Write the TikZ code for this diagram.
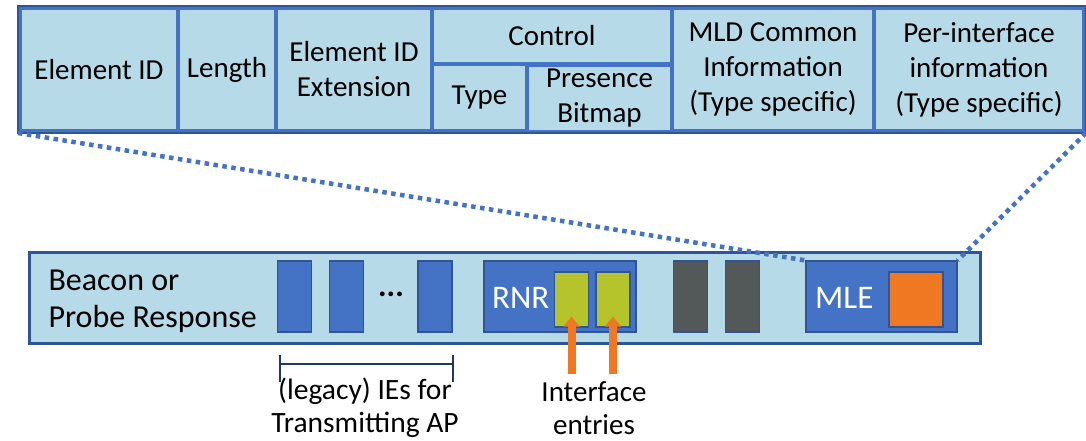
\documentclass[tikz,border=0pt]{standalone}
\usepackage{fontspec}
\setmainfont{Carlito}
\usetikzlibrary{arrows.meta}

\definecolor{barblue}{HTML}{B6DAE7}
\definecolor{accblue}{HTML}{4472C4}
\definecolor{darkblue}{HTML}{2F5597}
\definecolor{entrygreen}{HTML}{B5C42B}
\definecolor{elemgrey}{HTML}{535959}
\definecolor{accorange}{HTML}{F07823}
\definecolor{navy}{HTML}{203864}

\tikzstyle{cell}=[draw=accblue,fill=barblue,line width=4pt,inner sep=0pt,align=center,minimum height=123pt]
\tikzstyle{ie}=[draw=darkblue,fill=accblue,line width=1.2pt,minimum width=34pt,minimum height=71pt,inner sep=0pt]
\tikzstyle{entry}=[draw=darkblue,fill=entrygreen,line width=1.2pt,minimum width=34pt,minimum height=55pt,inner sep=0pt]
\tikzstyle{boxlabel}=[anchor=west,text=white,inner sep=0pt,font=\fontsize{33}{38}\selectfont]
\tikzstyle{zoomline}=[draw=accblue,line width=4.5pt,dash pattern=on 4.5pt off 4.5pt]
\tikzstyle{entryarrow}=[draw=accorange,line width=8pt,-{Triangle[width=16pt,length=10pt,fill=accorange]}]

\begin{document}
\begin{tikzpicture}[x=1pt,y=-1pt,font=\fontsize{29}{35}\selectfont]
\useasboundingbox (0,0) rectangle (1086,440);

% element layout
\node[cell,minimum width=158pt] (eid) at (99,69.5) {Element ID};
\node[cell,minimum width=98pt] (len) at (227,69.5) {Length};
\node[cell,minimum width=156pt] (ext) at (354,69.5) {Element ID\\Extension};
\node[cell,minimum width=240pt,minimum height=56pt] (ctrl) at (552,36) {Control};
\node[cell,minimum width=95pt,minimum height=67pt] (type) at (479.5,97.5) {Type};
\node[cell,minimum width=145pt,minimum height=67pt] (pres) at (599.5,98.5) {Presence\\Bitmap};
\node[cell,minimum width=202pt] (mld) at (773,69.5) {MLD Common\\Information\\(Type specific)};
\node[cell,minimum width=210pt] (per) at (979,69.5) {Per-interface\\information\\(Type specific)};
\draw[darkblue,line width=2pt] (eid.north west) rectangle (per.south east);

% frame
\node[draw=darkblue,fill=barblue,line width=3pt,minimum width=951pt,minimum height=91pt,inner sep=0pt] (frame) at (504.5,297.5) {};
\node[anchor=west,align=left,font=\fontsize{32}{37}\selectfont] (bpr) at (45,301) {Beacon or\\Probe Response};

\node[ie] (ie1) at (294.5,296.5) {};
\node[ie] (ie2) at (346.5,296.5) {};
\node[font=\fontsize{32}{38}\selectfont\bfseries] (dots) at (391,294) {...};
\node[ie] (ie3) at (435,296.5) {};

\node[ie,minimum width=152pt] (rnr) at (560,296.5) {};
\node[boxlabel] (rnrlbl) at (492,298) {RNR};
\node[entry] (g1) at (571.5,299.5) {};
\node[entry] (g2) at (613,299.5) {};

\node[ie,fill=elemgrey] (d1) at (690.5,296.5) {};
\node[ie,fill=elemgrey] (d2) at (742.5,296.5) {};

\node[ie,minimum width=151pt] (mle) at (881.5,296.5) {};
\node[boxlabel] (mlelbl) at (815,298) {MLE};
\node[entry,fill=accorange,minimum width=54pt] (osq) at (916,299.5) {};

% labels below
\coordinate (brl) at (280,364);
\coordinate (brr) at (453,364);
\draw[navy,line width=2pt] (brl) -- (brr);
\draw[navy,line width=2pt] ([yshift=9pt]brl) -- ([yshift=-18pt]brl);
\draw[navy,line width=2pt] ([yshift=9pt]brr) -- ([yshift=-18pt]brr);
\node[align=center,font=\fontsize{29.5}{33}\selectfont] (legacy) at (365,408) {(legacy) IEs for\\Transmitting AP};

\node[align=center,font=\fontsize{29}{33}\selectfont] (ientries) at (594,408) {Interface\\entries};
\coordinate (a1) at (571.5,374);
\coordinate (a2) at (613,374);
\draw[entryarrow] (a1) -- ([yshift=11pt]g1.south);
\draw[entryarrow] (a2) -- ([yshift=11pt]g2.south);

% zoom lines
\draw[zoomline] (eid.south west) -- (mle.north west);
\draw[zoomline] (per.south east) -- (mle.north east);

\end{tikzpicture}
\end{document}
